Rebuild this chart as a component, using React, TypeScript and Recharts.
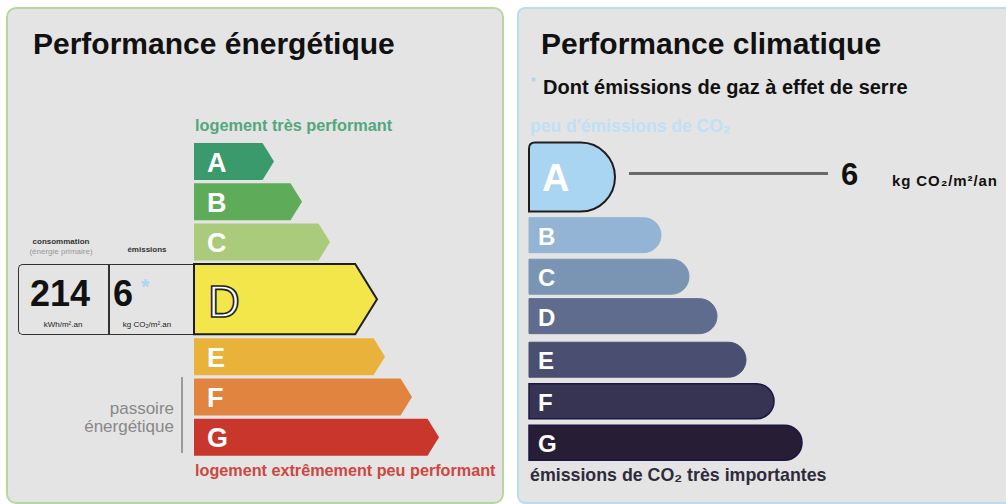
import React from "react";
import { BarChart, Bar, XAxis, YAxis, ReferenceLine } from "recharts";

// energy label (left)
const energyClasses = ["A", "B", "C", "D", "E", "F", "G"];
const energyLengths = [80, 108, 136, 183, 191, 218, 245];
const energyRows = [0, 1, 2, 3.42, 4.85, 5.85, 6.85];
const energyWeights = [1, 1, 1, 1.9, 1, 1, 1];
const energyColors = ["#3b9a6c", "#5eac5a", "#a9cb7b", "#f3e64b", "#e9b33b", "#e1843f", "#c9362c"];
const energyActive = "D";

// climate label (right)
const climateClasses = ["A", "B", "C", "D", "E", "F", "G"];
const climateLengths = [86, 132, 160, 188, 217, 245, 273];
const climateRows = [0, 1.4, 2.4, 3.35, 4.4, 5.4, 6.4];
const climateWeights = [1.97, 1, 1, 1, 1, 1, 1];
const climateColors = ["#a9d5f2", "#93b4d4", "#7a94b4", "#5f6c8e", "#4a4e71", "#373453", "#271d35"];
const climateActive = "A";

const consumption = 214;
const emissions = 6;
const leaderFrom = 100;
const leaderTo = 299;
const leaderRow = -0.09;

const FONT = '"Liberation Sans", Arial, Helvetica, sans-serif';

const energyData = energyClasses.map((c, i) => ({
  cls: c,
  len: energyLengths[i],
  row: energyRows[i],
  weight: energyWeights[i],
  color: energyColors[i],
  active: c === energyActive,
}));

const climateData = climateClasses.map((c, i) => ({
  cls: c,
  len: climateLengths[i],
  row: climateRows[i],
  weight: climateWeights[i],
  color: climateColors[i],
  active: c === climateActive,
}));

function ArrowBar(props: any) {
  const { x, y, width, height, payload } = props;
  const h = height * payload.weight;
  const top = y + height / 2 - h / 2;
  const tip = h * 0.31;
  const pts = [
    [x, top],
    [x + width - tip, top],
    [x + width, top + h / 2],
    [x + width - tip, top + h],
    [x, top + h],
  ]
    .map((p) => p.join(","))
    .join(" ");
  return (
    <g>
      <polygon
        points={pts}
        fill={payload.color}
        stroke={payload.active ? "#1e1e1e" : "none"}
        strokeWidth={payload.active ? 2 : 0}
      />
      {payload.active ? (
        <text
          x={x + 14}
          y={top + h / 2 + 2}
          dominantBaseline="central"
          fontFamily={FONT}
          fontSize={44}
          fill="#fff"
          stroke="#1e1e1e"
          strokeWidth={1.6}
        >
          {payload.cls}
        </text>
      ) : (
        <text
          x={x + 13}
          y={top + h / 2 + 1}
          dominantBaseline="central"
          fontFamily={FONT}
          fontWeight="bold"
          fontSize={27}
          fill="#fff"
        >
          {payload.cls}
        </text>
      )}
    </g>
  );
}

function RoundBar(props: any) {
  const { x, y, width, height, payload, index } = props;
  const h = height * payload.weight;
  const top = y + height / 2 - h / 2;
  const r = h / 2;
  const ex = x + width - r;
  const c = payload.active ? 6 : 0;
  const d = `M${x},${top + c} Q${x},${top} ${x + c},${top} H${ex} A${r},${r} 0 0 1 ${ex},${top + h} H${x} Z`;
  const dark = index >= 5;
  return (
    <g>
      <path
        d={d}
        fill={payload.color}
        stroke={payload.active ? "#1e1e1e" : dark ? "#1b1745" : payload.color}
        strokeWidth={payload.active ? 2 : dark ? 1.5 : 1}
      />
      <text
        x={x + (payload.active ? 13 : 9)}
        y={top + h / 2 + 1}
        dominantBaseline="central"
        fontFamily={FONT}
        fontWeight="bold"
        fontSize={payload.active ? 38 : 24}
        fill="#fff"
      >
        {payload.cls}
      </text>
    </g>
  );
}

const abs = (left: number, top: number, extra: React.CSSProperties = {}): React.CSSProperties => ({
  position: "absolute",
  left,
  top,
  whiteSpace: "nowrap",
  fontFamily: FONT,
  ...extra,
});

export default function App() {
  return (
    <div style={{ position: "fixed", left: 0, top: 0, width: 1006, height: 504, background: "#fff", overflow: "hidden", fontFamily: FONT }}>
      {/* panels */}
      <div
        style={{
          position: "absolute",
          left: 6,
          top: 7,
          width: 498,
          height: 497,
          boxSizing: "border-box",
          background: "#e4e4e4",
          border: "2px solid #b6d89c",
          borderRadius: 10,
        }}
      />
      <div
        style={{
          position: "absolute",
          left: 517,
          top: 7,
          width: 500,
          height: 497,
          boxSizing: "border-box",
          background: "#e4e4e4",
          border: "2px solid #bcdcf1",
          borderRadius: 8,
        }}
      />

      {/* left texts */}
      <div style={abs(33, 27, { fontSize: 30, fontWeight: "bold", color: "#111" })}>Performance énergétique</div>
      <div style={abs(195, 116, { fontSize: 16.3, fontWeight: "bold", color: "#52a87c" })}>logement très performant</div>
      <div style={abs(195, 461, { fontSize: 16.2, fontWeight: "bold", color: "#cf4640" })}>
        logement extrêmement peu performant
      </div>
      <div style={abs(54, 400, { fontSize: 17, color: "#888", textAlign: "right", width: 120, lineHeight: "18px" })}>
        passoire
        <br />
        énergétique
      </div>
      <div style={{ position: "absolute", left: 181, top: 377, width: 2, height: 76, background: "#9a9a9a" }} />

      {/* consumption / emissions box */}
      <div
        style={{
          position: "absolute",
          left: 18,
          top: 264,
          width: 178,
          height: 71,
          boxSizing: "border-box",
          border: "1.5px solid #333",
          borderRight: "none",
          borderRadius: "5px 0 0 5px",
        }}
      />
      <div style={{ position: "absolute", left: 108, top: 264, width: 1.5, height: 71, background: "#333" }} />
      <div style={abs(18, 237, { width: 86, textAlign: "center", fontSize: 8, fontWeight: "bold", color: "#333", lineHeight: "10px" })}>
        consommation
        <br />
        <span style={{ color: "#999", fontWeight: "normal" }}>(énergie primaire)</span>
      </div>
      <div style={abs(110, 245, { width: 74, textAlign: "center", fontSize: 8, fontWeight: "bold", color: "#333" })}>émissions</div>
      <div style={abs(30, 273, { fontSize: 36, fontWeight: "bold", color: "#111", lineHeight: "42px" })}>{consumption}</div>
      <div style={abs(18, 320, { width: 90, textAlign: "center", fontSize: 8, color: "#222" })}>kWh/m².an</div>
      <div style={abs(113, 273, { fontSize: 36, fontWeight: "bold", color: "#111", lineHeight: "42px" })}>{emissions}</div>
      <div style={abs(141, 274, { fontSize: 22, fontWeight: "bold", color: "#a8d6f4" })}>*</div>
      <div style={abs(110, 320, { width: 74, textAlign: "center", fontSize: 8, color: "#222" })}>kg CO₂/m².an</div>

      <div style={{ position: "absolute", left: 0, top: 0 }}>
        <BarChart
          layout="vertical"
          width={505}
          height={504}
          data={energyData}
          margin={{ top: 141, right: 11, bottom: 47, left: 194 }}
        >
          <XAxis type="number" domain={[0, 300]} hide />
          <YAxis type="number" dataKey="row" domain={[-0.5, 7.35]} ticks={energyRows} hide />
          <Bar dataKey="len" barSize={37} isAnimationActive={false} shape={<ArrowBar />} />
        </BarChart>
      </div>

      {/* right texts */}
      <div style={abs(541, 27, { fontSize: 30, fontWeight: "bold", color: "#111" })}>Performance climatique</div>
      <div style={abs(531, 75, { fontSize: 12, fontWeight: "bold", color: "#a8d6f4" })}>*</div>
      <div style={abs(543, 76, { fontSize: 20, fontWeight: "bold", color: "#111" })}>Dont émissions de gaz à effet de serre</div>
      <div style={abs(530, 116, { fontSize: 17.5, fontWeight: "bold", color: "#bfe0f5" })}>peu d'émissions de CO₂</div>
      <div style={abs(841, 157, { fontSize: 31, fontWeight: "bold", color: "#111" })}>{emissions}</div>
      <div style={abs(892, 172, { fontSize: 15, fontWeight: "bold", color: "#111", letterSpacing: 0.9 })}>kg CO₂/m²/an</div>
      <div style={abs(530, 465, { fontSize: 17.8, fontWeight: "bold", color: "#2e2b3c" })}>émissions de CO₂ très importantes</div>

      <div style={{ position: "absolute", left: 515, top: 0 }}>
        <BarChart
          layout="vertical"
          width={491}
          height={504}
          data={climateData}
          margin={{ top: 142, right: 177, bottom: 44, left: 14 }}
        >
          <XAxis type="number" domain={[0, 300]} hide />
          <YAxis type="number" dataKey="row" domain={[-0.85, 6.81]} ticks={climateRows} hide />
          <Bar dataKey="len" barSize={35} isAnimationActive={false} shape={<RoundBar />} />
          <ReferenceLine
            segment={[
              { x: leaderFrom, y: leaderRow },
              { x: leaderTo, y: leaderRow },
            ]}
            stroke="#6a6a6a"
            strokeWidth={3}
          />
        </BarChart>
      </div>
    </div>
  );
}
